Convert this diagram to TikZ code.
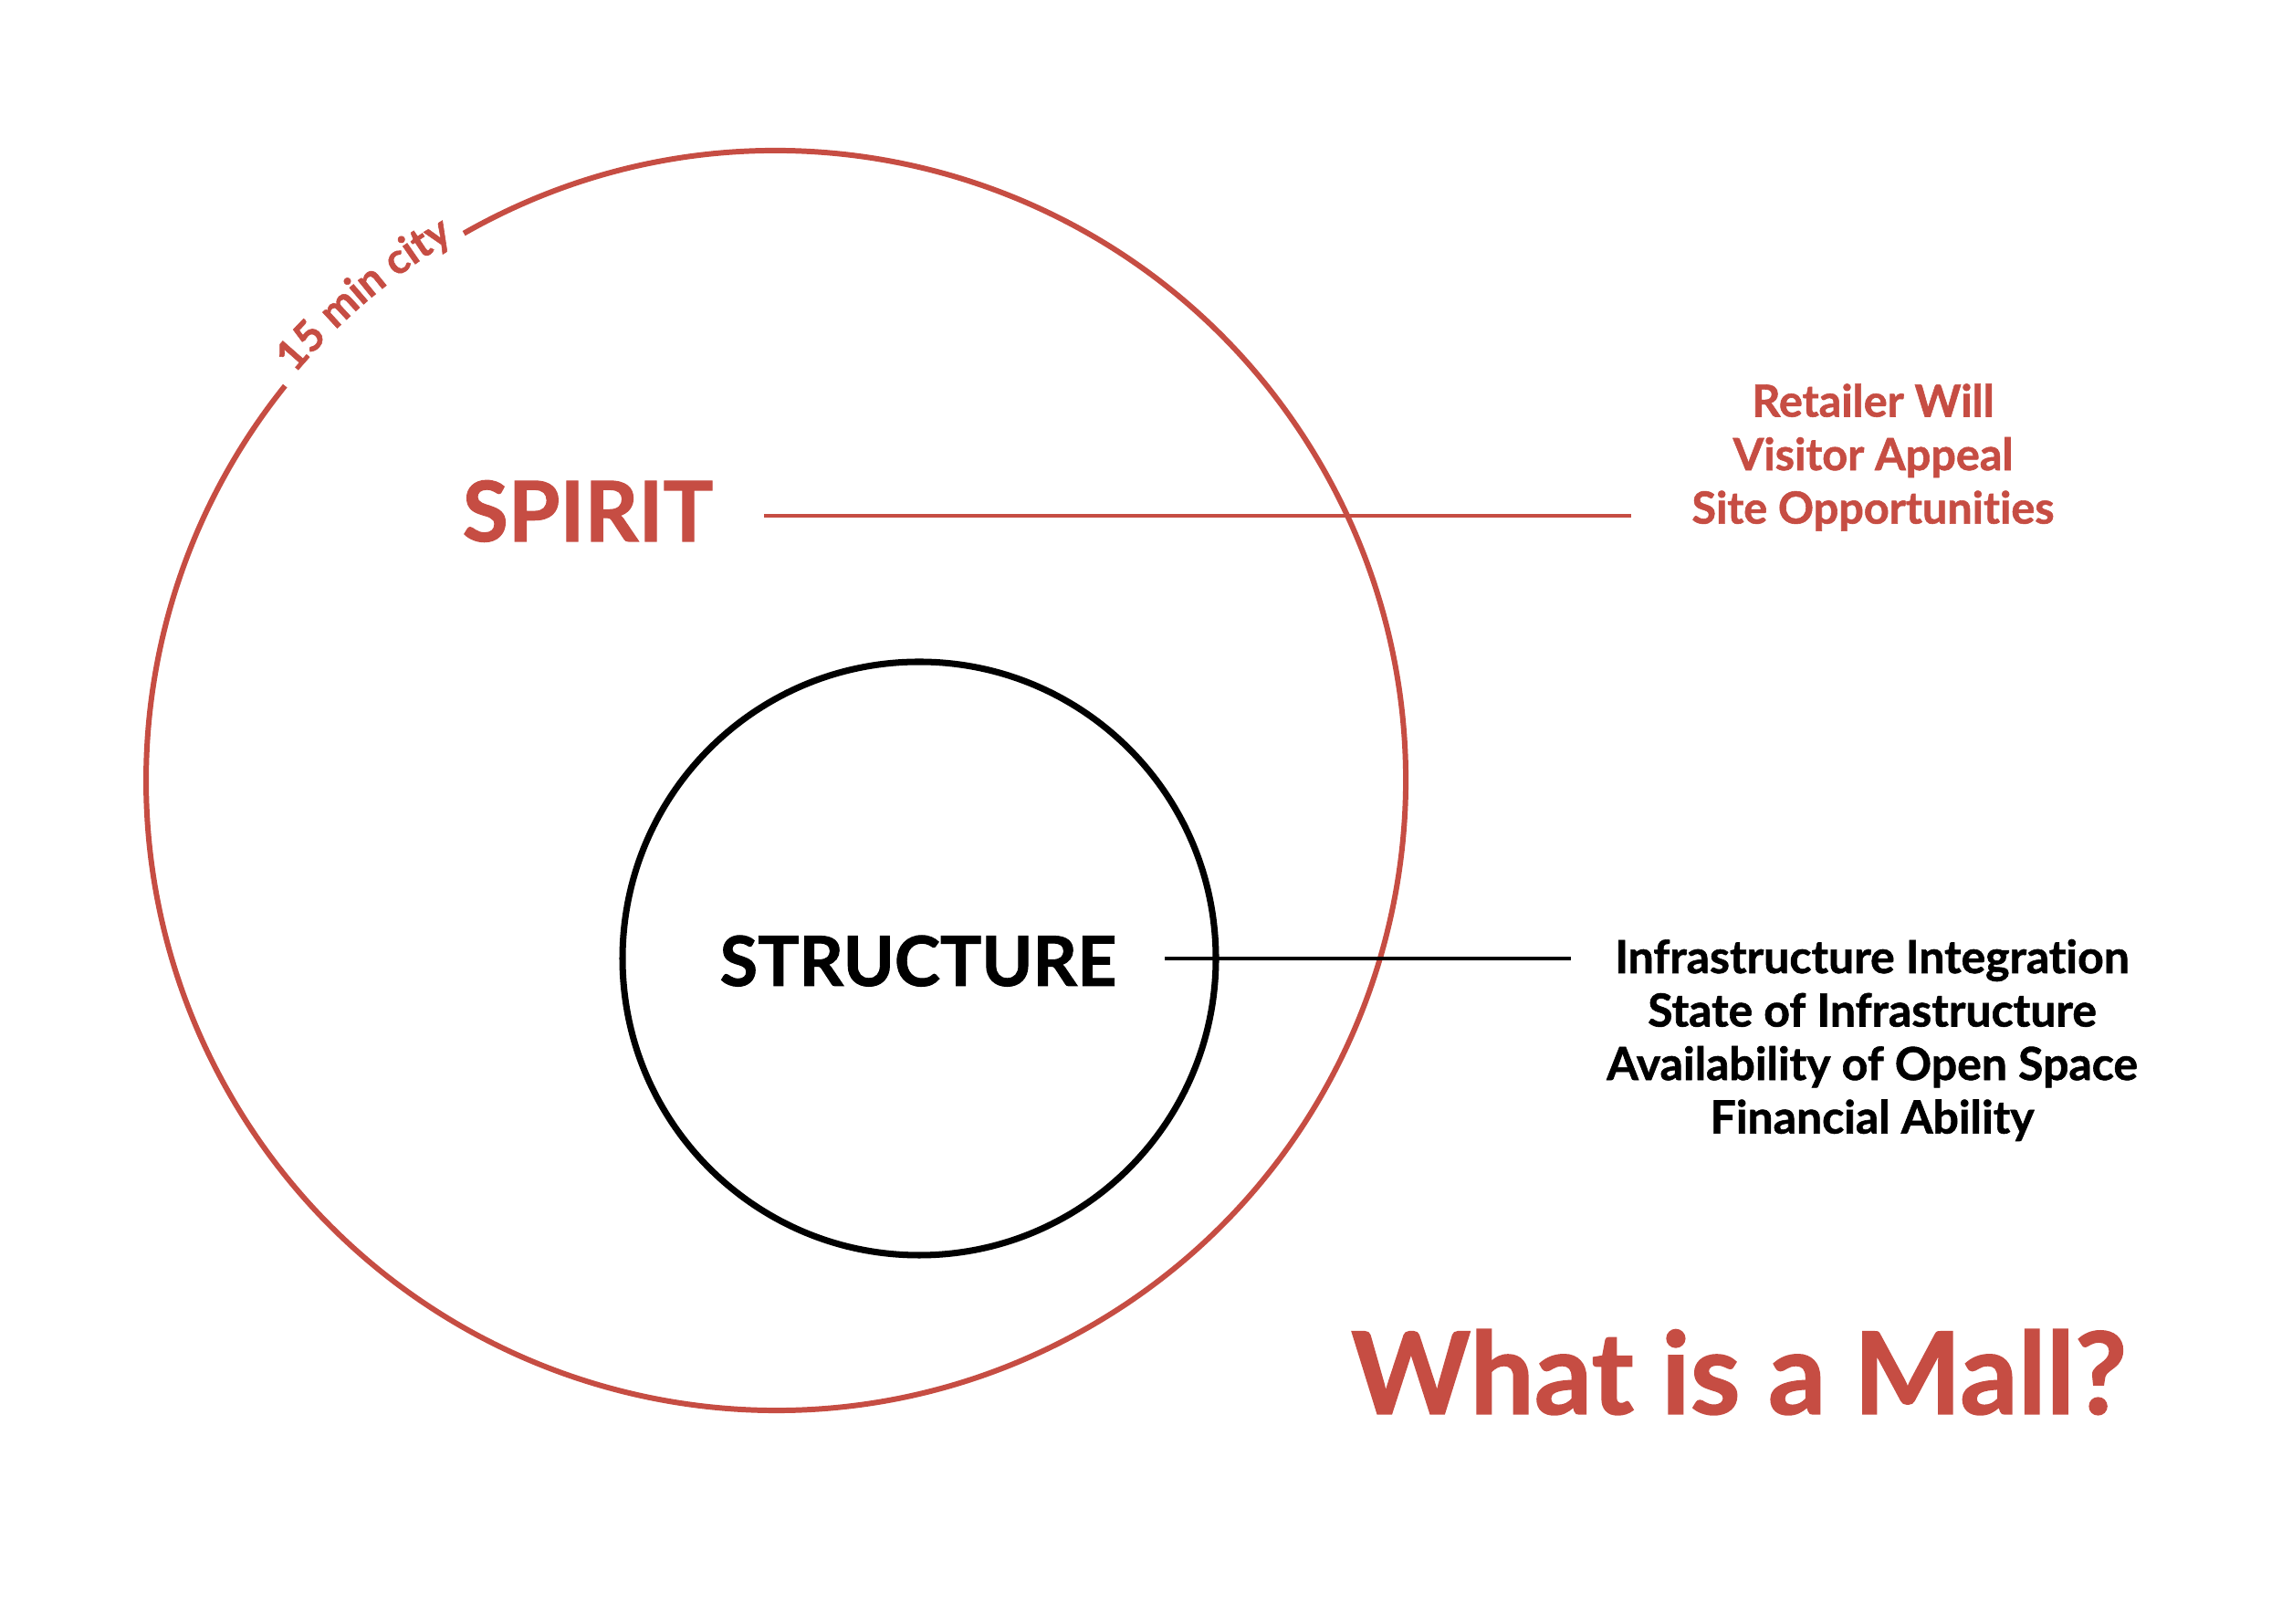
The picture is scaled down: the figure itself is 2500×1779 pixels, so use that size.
\documentclass[tikz,border=0pt]{standalone}
\usepackage{fontspec}
\setmainfont{Lato}[Ligatures=NoCommon, BoldFeatures={FakeBold=1.2}]
\usetikzlibrary{positioning}
\usetikzlibrary{decorations.text}
\definecolor{mallred}{RGB}{198,77,67}
\tikzset{
    x=0.01cm, y=0.01cm, % one unit is one pixel of the sketch
    node distance=0.585cm, % spacing between the lines of a list
    spiritring/.style={draw=mallred, line width=1.7pt},
    structring/.style={draw=black, line width=2pt},
    spiritword/.style={text=mallred, anchor=base, inner sep=0pt, font=\bfseries\fontsize{26pt}{26pt}\selectfont},
    structword/.style={text=black, anchor=base, inner sep=0pt, font=\bfseries\fontsize{21.5pt}{21.5pt}\selectfont},
    spiritlist/.style={text=mallred, inner sep=0pt, text height=0.33cm, text depth=0.1cm, font=\bfseries\fontsize{13.8pt}{13.8pt}\selectfont},
    structlist/.style={text=black, inner sep=0pt, text height=0.36cm, text depth=0.1cm, font=\bfseries\fontsize{14.2pt}{14.2pt}\selectfont},
    titleword/.style={text=mallred, anchor=base, inner sep=0pt, font=\bfseries\fontsize{35.5pt}{35.5pt}\selectfont},
    spiritline/.style={draw=mallred, line width=1.1pt},
    structline/.style={draw=black, line width=1.4pt},
}
\newcommand{\cityfont}{\color{mallred}\bfseries\fontsize{13.2pt}{13.2pt}\selectfont}

\begin{document}
\begin{tikzpicture}[on grid]
      \useasboundingbox (0,0) rectangle (2500,1779);
      % the two rings, the outer one open for its label
      \draw[spiritring] (850,924) ++(119.7:690) arc[start angle=119.7, end angle=-218.8, radius=690];
      \path[decorate, decoration={text along path, text align=center, text={|\cityfont|15 min city}}]
            (850,924) ++(141.5:690) arc[start angle=141.5, end angle=119, radius=690];
      \draw[structring] (1007,729) circle[radius=325];

      \node (q_spirit) [spiritword] at (644,1186) {SPIRIT};
      \node (q_structure) [structword] at (1006,699) {STRUCTURE};

      \node (q_retailer) [spiritlist] at (2052,1334) {Retailer Will};
      \node (q_visitor) [spiritlist, below of=q_retailer] {Visitor Appeal};
      \node (q_site) [spiritlist, below of=q_visitor] {Site Opportunities};

      \node (q_integration) [structlist] at (2051,726) {Infrastructure Integration};
      \node (q_state) [structlist, below of=q_integration] {State of Infrastructure};
      \node (q_openspace) [structlist, below of=q_state] {Availability of Open Space};
      \node (q_financial) [structlist, below of=q_openspace] {Financial Ability};

      \node (q_title) [titleword] at (1905,230) {What is a Mall?};

      \coordinate (spirit_a) at (837,1214);
      \coordinate (spirit_b) at (1787,1214);
      \coordinate (struct_a) at (1276,729);
      \coordinate (struct_b) at (1721,729);
      \path
      (spirit_a) edge [spiritline] (spirit_b)
      (struct_a) edge [structline] (struct_b)
      ;
    \end{tikzpicture}
\end{document}
